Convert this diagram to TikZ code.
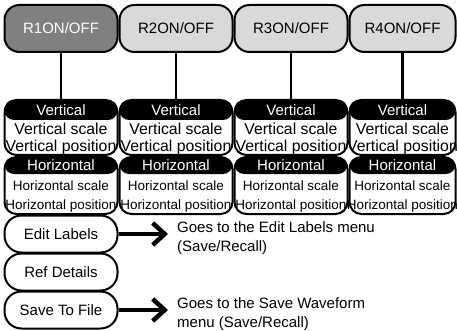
\documentclass[tikz,border=0pt]{standalone}
\usepackage{fontspec}
\setmainfont{Liberation Sans}
\usetikzlibrary{arrows.meta}
\definecolor{darkbtn}{HTML}{808080}
\definecolor{lightbtn}{HTML}{D9D9D9}
\tikzset{
  btn/.style={draw, line width=2pt, rounded corners=15pt, minimum height=47pt,
    inner sep=0pt, font=\fontsize{15}{15}\selectfont},
  outerbox/.style={draw, fill=white, line width=2pt, rounded corners=12pt, inner sep=0pt},
  headbox/.style={fill=black, rounded corners=9.5pt, inner sep=0pt, text=white,
    font=\fontsize{15}{15}\selectfont},
  vtxt/.style={inner sep=0pt, font=\fontsize{15.8}{15}\selectfont},
  htxt/.style={inner sep=0pt, font=\fontsize{13.5}{15}\selectfont},
  menubtn/.style={draw, fill=white, line width=2pt, rounded corners=17pt, minimum width=113pt,
    minimum height=37pt, inner sep=0pt, font=\fontsize{15}{15}\selectfont},
  note/.style={inner sep=0pt, align=left, anchor=west, font=\fontsize{15}{19.5}\selectfont},
  conn/.style={line width=2.2pt},
  goarrow/.style={line width=4.5pt, -{Straight Barb[length=12pt,width=22pt]}},
}
\begin{document}
\begin{tikzpicture}[x=1pt,y=-1pt]
\useasboundingbox (0,0) rectangle (457,331);
% top buttons
\node[btn, fill=darkbtn, text=white, minimum width=113pt] (r1) at (61,28.5) {R1ON/OFF};
\node[btn, fill=lightbtn, minimum width=113pt] (r2) at (176,28.5) {R2ON/OFF};
\node[btn, fill=lightbtn, minimum width=113pt] (r3) at (291,28.5) {R3ON/OFF};
\node[btn, fill=lightbtn, minimum width=106pt] (r4) at (402.5,28.5) {R4ON/OFF};
% columns
\foreach \i/\cx/\w in {1/61/113, 2/176/113, 3/291/113, 4/402.5/106} {
  \node[outerbox, minimum width=\w pt, minimum height=55pt] (v\i) at (\cx,127.5) {};
  \node[headbox, minimum width=\w pt, minimum height=20pt] (vh\i) at (\cx,110) {Vertical};
  \node[vtxt] (vs\i) at (\cx,129) {Vertical scale};
  \node[vtxt] (vp\i) at (\cx,147) {Vertical position};
  \node[outerbox, minimum width=\w pt, minimum height=57pt] (h\i) at (\cx,185.5) {};
  \node[headbox, minimum width=\w pt, minimum height=17pt] (hh\i) at (\cx,165.5) {Horizontal};
  \node[htxt] (hs\i) at (\cx,186) {Horizontal scale};
  \node[htxt] (hp\i) at (\cx,206) {Horizontal position};
}
\foreach \i in {1,2,3,4} {
  \draw[conn] (r\i.south) -- (vh\i.north);
}
% menu buttons
\node[menubtn] (el) at (61,234) {Edit Labels};
\node[menubtn] (rd) at (61,272) {Ref Details};
\node[menubtn] (sf) at (61,310) {Save To File};
% notes
\node[note] (elt) at (177,238) {Goes to the Edit Labels menu\\(Save/Recall)};
\node[note] (sft) at (177,314) {Goes to the Save Waveform\\menu (Save/Recall)};
\draw[goarrow] (el.east) -- ([xshift=-9pt]el.east -| elt.west);
\draw[goarrow] (sf.east) -- ([xshift=-9pt]sf.east -| sft.west);
\end{tikzpicture}
\end{document}
